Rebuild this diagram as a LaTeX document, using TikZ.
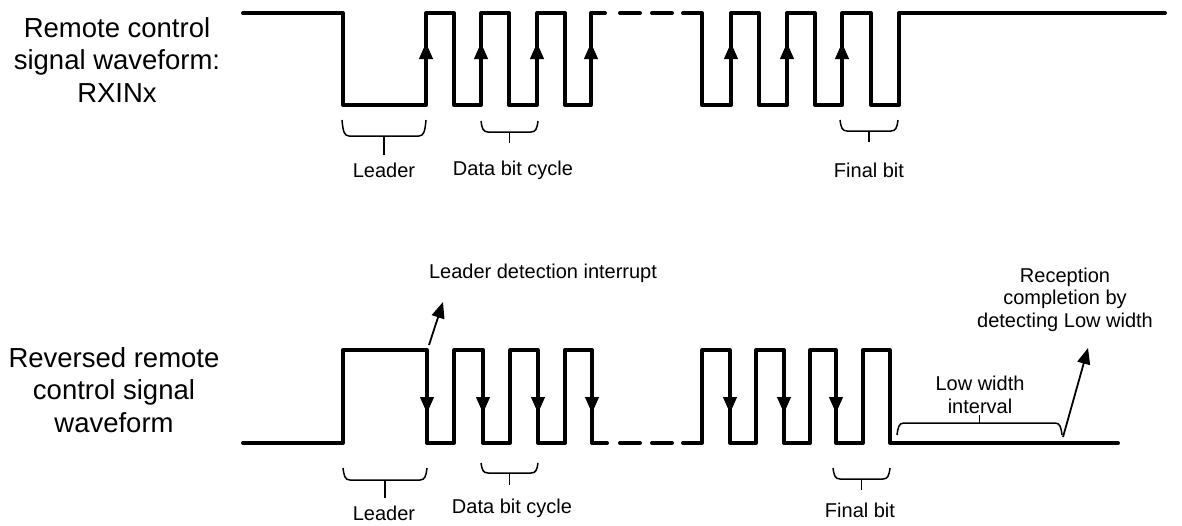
\documentclass[tikz,border=0pt]{standalone}
\usepackage{fontspec}
\setmainfont{Liberation Sans}
\usetikzlibrary{arrows.meta}
\tikzset{
 wave/.style={line width=4pt, line join=round, line cap=round},
 brc/.style={line width=1.5pt},
 edgearr/.style={line width=1pt, -{Triangle[length=16pt,width=14pt]}},
 callarr/.style={line width=1.8pt, -{Triangle[length=16pt,width=13pt]}},
 lbl/.style={font=\fontsize{20}{22.5}\selectfont, inner sep=0pt, anchor=base, align=center},
 side/.style={font=\fontsize{27.5}{32.5}\selectfont, inner sep=0pt, align=center, anchor=base},
}
% brace: x1, x2, y of ends, y of bar, y of stem end
\newcommand\brcshape[5]{%
 \draw[brc] (#1,#3) .. controls ({#1+1},{(#3+2*#4)/3}) and ({#1+2},#4) .. ({#1+7},#4)
   -- ({#2-7},#4) .. controls ({#2-2},#4) and ({#2-1},{(#3+2*#4)/3}) .. (#2,#3);
 \draw[brc] ({(#1+#2)/2},#4) -- ({(#1+#2)/2},#5);}
\begin{document}
\begin{tikzpicture}[x=1pt,y=-1pt]
\useasboundingbox (0,0) rectangle (1182,525);

% ---------- top waveform ----------
\draw[wave] (243,13) -- (343,13) -- (343,105) -- (426,105) -- (426,13) -- (454,13) -- (454,105)
 -- (481,105) -- (481,13) -- (509,13) -- (509,105) -- (537,105) -- (537,13) -- (565,13)
 -- (565,105) -- (591,105) -- (591,13) -- (605,13);
\draw[wave] (620,13) -- (640,13);
\draw[wave] (652,13) -- (672,13);
\draw[wave] (683,13) -- (702,13) -- (702,105) -- (731,105) -- (731,13) -- (759,13) -- (759,105)
 -- (787,105) -- (787,13) -- (815,13) -- (815,105) -- (842,105) -- (842,13) -- (871,13)
 -- (871,105) -- (899,105) -- (899,13) -- (1165,13);
\foreach \x in {426,481,537,591,731,787,842}
  \draw[edgearr] (\x,75) -- (\x,43);

\brcshape{342}{426}{120}{136}{155}
\brcshape{481}{538}{121}{132}{143}
\brcshape{840}{898}{120}{131}{142}
\node[lbl] (tlead) at (384,177) {Leader};
\node[lbl] (tdata) at (513,175) {Data bit cycle};
\node[lbl] (tfinal) at (869,177) {Final bit};
\node[side] (tname) at (117,102) {Remote control\\signal waveform:\\RXINx};

% ---------- bottom waveform ----------
\draw[wave] (243,443) -- (343,443) -- (343,350) -- (427,350) -- (427,443) -- (454,443) -- (454,350)
 -- (483,350) -- (483,443) -- (510,443) -- (510,350) -- (538,350) -- (538,443) -- (565,443)
 -- (565,350) -- (592,350) -- (592,443) -- (607,443);
\draw[wave] (620,443) -- (640,443);
\draw[wave] (652,443) -- (672,443);
\draw[wave] (683,443) -- (702,443) -- (702,350) -- (730,350) -- (730,443) -- (756,443) -- (756,350)
 -- (784,350) -- (784,443) -- (810,443) -- (810,350) -- (836,350) -- (836,443) -- (863,443)
 -- (863,350) -- (890,350) -- (890,443) -- (1118,443);
\foreach \x in {427,483,538,592,730,784,836}
  \draw[edgearr] (\x,380) -- (\x,413);

\brcshape{343}{427}{468}{480}{498}
\brcshape{481}{538}{463}{473}{485}
\brcshape{833}{890}{468}{479}{490}
\brcshape{897}{1062}{435}{423}{415}
\node[lbl] (blead) at (384,520) {Leader};
\node[lbl] (bdata) at (512,513) {Data bit cycle};
\node[lbl] (bfinal) at (860,517) {Final bit};
\node[lbl] (lowint) at (980,413) {Low width\\interval};
\node[lbl] (recep) at (1065,327) {Reception\\completion by\\detecting Low width};
\node[lbl] (ldi) at (543,278) {Leader detection interrupt};
\node[side] (bname) at (114,432) {Reversed remote\\control signal\\waveform};

\coordinate (ldiS) at (429,345);
\coordinate (ldiE) at (443,302);
\draw[callarr] (ldiS) -- (ldiE);
\coordinate (recS) at (1063,437);
\coordinate (recE) at (1088,348);
\draw[callarr] (recS) -- (recE);
\end{tikzpicture}
\end{document}
